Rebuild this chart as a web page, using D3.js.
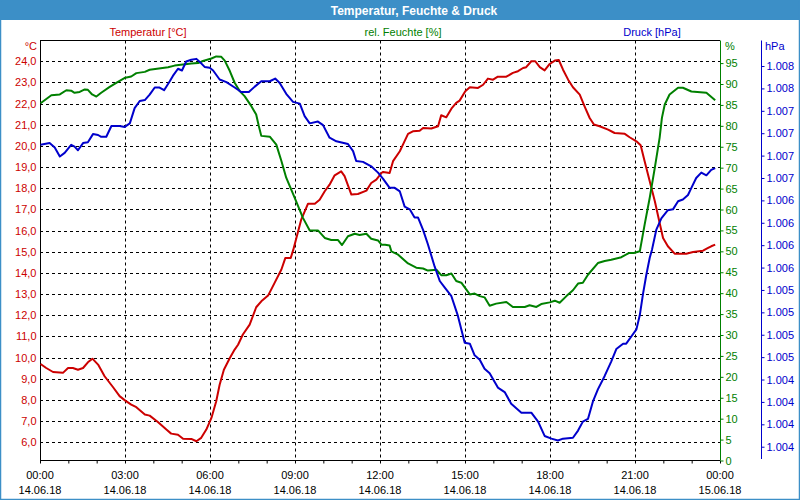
<!DOCTYPE html>
<html><head><meta charset="utf-8">
<script src="https://cdn.jsdelivr.net/npm/d3@7/dist/d3.min.js"></script>
<style>
body{margin:0;background:#fff}
svg text{font-family:"Liberation Sans",Arial,sans-serif;font-size:11px}
</style>
</head><body><svg id="c" width="800" height="500"></svg>
<script>
// ---------- data ----------
const chartTitle = "Temperatur, Feuchte & Druck";
const seriesNames = ["Temperatur [°C]", "rel. Feuchte [%]", "Druck [hPa]"];
const unitLabels = ["°C", "%", "hPa"];

const tempTimes = [0.02,0.22,0.46,0.81,0.99,1.16,1.34,1.52,1.69,1.85,2.05,2.28,2.58,2.81,3.01,3.22,3.40,3.70,3.87,4.16,4.46,4.63,4.87,5.05,5.34,5.52,5.69,5.87,6.05,6.22,6.34,6.49,6.70,6.87,6.99,7.16,7.40,7.63,7.81,8.05,8.28,8.52,8.66,8.85,8.94,9.22,9.46,9.70,9.87,10.05,10.22,10.40,10.63,10.75,10.99,11.22,11.52,11.69,11.87,12.05,12.11,12.34,12.46,12.70,12.81,12.99,13.16,13.40,13.52,13.81,14.05,14.16,14.34,14.52,14.69,14.81,15.01,15.17,15.46,15.64,15.81,15.99,16.16,16.46,16.69,16.87,17.05,17.16,17.34,17.48,17.64,17.81,17.99,18.17,18.31,18.46,18.64,18.81,19.05,19.22,19.40,19.55,19.75,20.05,20.28,20.64,20.81,21.05,21.20,21.34,21.52,21.70,21.87,21.99,22.16,22.40,22.81,23.05,23.40,23.58,23.69,23.83];
const tempValues = [9.70,9.51,9.32,9.28,9.51,9.51,9.43,9.51,9.78,9.95,9.67,9.12,8.60,8.18,7.97,7.78,7.66,7.31,7.26,6.96,6.60,6.41,6.36,6.17,6.16,6.05,6.21,6.60,7.15,7.94,8.72,9.43,9.98,10.38,10.61,11.09,11.56,12.38,12.66,12.93,13.53,14.16,14.71,14.71,15.10,16.52,17.27,17.27,17.46,17.86,18.17,18.61,18.80,18.57,17.70,17.73,17.89,18.25,18.41,18.72,18.77,18.72,19.28,19.75,20.06,20.57,20.69,20.72,20.85,20.82,20.93,21.45,21.35,21.76,22.03,22.14,22.58,22.77,22.74,22.89,23.18,23.13,23.27,23.27,23.45,23.53,23.68,23.72,24.00,24.00,23.72,23.57,23.87,24.03,24.06,23.60,23.13,22.77,22.42,21.87,21.32,21.01,20.93,20.77,20.61,20.57,20.41,20.22,20.03,19.28,18.33,17.39,16.36,15.65,15.26,14.91,14.91,14.99,15.05,15.18,15.26,15.34];

const humTimes = [0.02,0.40,0.70,0.93,1.10,1.22,1.40,1.58,1.69,1.84,1.99,2.16,2.46,2.75,3.01,3.22,3.40,3.70,3.87,4.52,4.75,5.34,5.58,5.75,6.05,6.22,6.40,6.52,6.70,6.87,7.05,7.22,7.46,7.63,7.72,7.81,8.11,8.34,8.52,8.69,8.99,9.28,9.52,9.81,10.05,10.28,10.52,10.66,10.87,11.11,11.28,11.52,11.69,11.93,12.05,12.18,12.34,12.40,12.64,12.99,13.28,13.52,13.69,13.99,14.16,14.34,14.52,14.69,14.87,15.17,15.34,15.52,15.69,15.87,16.10,16.46,16.69,17.11,17.28,17.52,17.69,17.99,18.17,18.34,18.58,18.81,18.99,19.16,19.34,19.69,19.93,20.16,20.52,20.78,20.96,21.17,21.34,21.52,21.70,21.87,21.95,22.05,22.22,22.52,22.69,22.99,23.52,23.83];
const humValues = [85.4,87.3,87.5,88.5,88.4,87.9,88.1,88.7,88.6,87.5,87.0,87.9,89.3,90.5,91.5,91.8,92.6,92.9,93.4,94.0,94.4,94.9,95.0,95.5,96.1,96.6,96.5,95.6,93.1,90.3,88.3,87.1,84.7,82.7,80.0,77.6,77.4,75.5,71.6,67.6,62.8,58.0,55.0,55.0,53.2,52.7,52.7,51.5,53.6,54.2,53.9,54.2,53.0,52.6,51.6,51.6,51.4,50.0,49.2,47.1,46.1,45.9,45.4,45.6,44.3,44.3,44.7,42.9,42.5,39.7,39.9,39.3,39.0,37.0,37.5,37.9,36.7,36.7,37.1,36.7,37.4,37.8,38.2,37.7,39.3,40.7,42.3,42.5,44.4,47.2,47.7,48.0,48.6,49.6,49.6,50.0,56.4,62.8,70.0,77.2,81.9,85.1,87.5,89.1,89.1,88.2,87.9,86.1];

const pressTimes = [0.02,0.34,0.52,0.70,0.87,1.10,1.22,1.34,1.52,1.69,1.87,2.05,2.16,2.34,2.52,2.81,2.99,3.17,3.34,3.52,3.70,3.87,4.05,4.22,4.38,4.58,4.69,4.87,5.01,5.16,5.34,5.52,5.69,5.81,5.99,6.11,6.34,6.58,6.87,7.10,7.37,7.58,7.81,8.11,8.30,8.46,8.69,8.93,9.17,9.34,9.52,9.81,9.99,10.22,10.46,10.87,11.05,11.16,11.40,11.69,11.93,12.11,12.34,12.52,12.70,12.87,13.05,13.22,13.34,13.52,13.69,13.93,14.11,14.28,14.52,14.75,14.99,15.17,15.34,15.52,15.69,15.87,16.16,16.40,16.63,16.99,17.34,17.58,17.81,18.05,18.28,18.46,18.81,18.99,19.16,19.34,19.52,19.69,19.93,20.16,20.34,20.58,20.69,20.87,21.05,21.17,21.28,21.40,21.52,21.60,21.75,21.93,22.16,22.34,22.52,22.69,22.87,22.99,23.16,23.34,23.52,23.69,23.83];
const pressValues = [1006.87,1006.89,1006.84,1006.74,1006.78,1006.87,1006.85,1006.81,1006.89,1006.90,1006.99,1006.98,1006.96,1006.96,1007.08,1007.08,1007.07,1007.11,1007.28,1007.36,1007.37,1007.43,1007.51,1007.51,1007.48,1007.58,1007.64,1007.72,1007.70,1007.80,1007.82,1007.83,1007.78,1007.74,1007.73,1007.70,1007.60,1007.57,1007.51,1007.46,1007.46,1007.52,1007.58,1007.58,1007.61,1007.56,1007.44,1007.35,1007.33,1007.19,1007.11,1007.13,1007.09,1006.95,1006.91,1006.88,1006.80,1006.69,1006.68,1006.63,1006.56,1006.49,1006.39,1006.39,1006.35,1006.18,1006.15,1006.06,1006.06,1005.92,1005.76,1005.51,1005.35,1005.28,1005.18,1004.96,1004.66,1004.65,1004.52,1004.47,1004.37,1004.32,1004.16,1004.11,1003.98,1003.88,1003.88,1003.78,1003.62,1003.59,1003.57,1003.59,1003.60,1003.68,1003.78,1003.81,1004.01,1004.14,1004.29,1004.45,1004.59,1004.65,1004.65,1004.73,1004.81,1004.97,1005.20,1005.42,1005.61,1005.70,1005.92,1006.05,1006.14,1006.15,1006.24,1006.26,1006.31,1006.39,1006.50,1006.56,1006.53,1006.59,1006.61];

const hourTicks = [0,1,2,3,4,5,6,7,8,9,10,11,12,13,14,15,16,17,18,19,20,21,22,23,24];
const majorTicks = [0,3,6,9,12,15,18,21,24];
const timeLabels = ["00:00","03:00","06:00","09:00","12:00","15:00","18:00","21:00","00:00"];
const dateLabels = ["14.06.18","14.06.18","14.06.18","14.06.18","14.06.18","14.06.18","14.06.18","14.06.18","15.06.18"];
const tempTicks = [6,7,8,9,10,11,12,13,14,15,16,17,18,19,20,21,22,23,24];
const humTicks = [0,5,10,15,20,25,30,35,40,45,50,55,60,65,70,75,80,85,90,95];
const pressTicks = [1003.5,1003.75,1004,1004.25,1004.5,1004.75,1005,1005.25,1005.5,1005.75,1006,1006.25,1006.5,1006.75,1007,1007.25,1007.5,1007.75];

// ---------- layout / style ----------
const L = 40, R = 720, T = 40.5, B = 460.5;
const RED = "#cc0000", GREEN = "#008000", BLUE = "#0000cc", FRAME = "#3c8fc7";
const de = d3.formatLocale({decimal: ",", thousands: ".", grouping: [3], currency: ["", " €"]});
const fmtT = de.format(".1f"), fmtP = de.format(",.0f");

const svg = d3.select("#c");
const x = d3.scaleLinear().domain([0, 24]).range([L, R]);
const yT = d3.scaleLinear().domain([5.14, 24.98]).range([B, T]);
const yH = d3.scaleLinear().domain([0, 100.4]).range([B, T]);
const yP = d3.scaleLinear().domain([1003.346, 1008.035]).range([B, T]);

svg.append("rect").attr("x", 0).attr("y", 0).attr("width", 800).attr("height", 500).attr("fill", "#fff");
// title bar
svg.append("rect").attr("x", 0).attr("y", 0).attr("width", 800).attr("height", 20).attr("fill", FRAME);
svg.append("rect").attr("x", 0.5).attr("y", 0.5).attr("width", 799).attr("height", 499)
  .attr("fill", "none").attr("stroke", FRAME).attr("stroke-width", 1.5);
svg.append("text").attr("x", 414).attr("y", 14.5).attr("text-anchor", "middle")
  .attr("fill", "#fff").attr("font-weight", "bold").style("font-size", "12px").text(chartTitle);

// series titles
const titleX = [148, 403, 652], colors = [RED, GREEN, BLUE];
seriesNames.forEach((n, i) => svg.append("text").attr("x", titleX[i]).attr("y", 36)
  .attr("text-anchor", "middle").attr("fill", colors[i]).text(n));

// grid
const grid = svg.append("g").attr("stroke", "#000").attr("stroke-dasharray", "3,3").attr("stroke-width", 1);
grid.selectAll("line.h").data(tempTicks).join("line")
  .attr("x1", L).attr("x2", R).attr("y1", d => Math.round(yT(d)) + 0.5).attr("y2", d => Math.round(yT(d)) + 0.5);
grid.selectAll("line.v").data(majorTicks.slice(1, -1)).join("line")
  .attr("y1", T).attr("y2", B).attr("x1", d => Math.round(x(d)) + 0.5).attr("x2", d => Math.round(x(d)) + 0.5);

// left temperature axis
const axT = svg.append("g").attr("transform", `translate(${L + 0.5},0)`)
  .call(d3.axisLeft(yT).tickValues(tempTicks).tickFormat(fmtT).tickSize(0).tickPadding(4));
axT.select(".domain").remove();
axT.selectAll("text").attr("fill", RED).style("font-size", "11px").style("font-family", "Liberation Sans, Arial, sans-serif");

// bottom time axis
const axX = svg.append("g").attr("transform", `translate(0,${B})`)
  .call(d3.axisBottom(x).tickValues(hourTicks).tickSize(3).tickFormat(""));
axX.select(".domain").remove();
axX.selectAll("line").attr("stroke", "#000");
const xl = svg.append("g").attr("fill", "#000");
majorTicks.forEach((h, i) => {
  xl.append("text").attr("x", x(h)).attr("y", 479).attr("text-anchor", "middle").text(timeLabels[i]);
  xl.append("text").attr("x", x(h)).attr("y", 494).attr("text-anchor", "middle").text(dateLabels[i]);
});

// humidity axis (right, green)
const axH = svg.append("g").attr("transform", `translate(${R + 0.5},0)`)
  .call(d3.axisRight(yH).tickValues(humTicks).tickSize(3).tickPadding(2));
axH.select(".domain").remove();
axH.selectAll("line").attr("stroke", GREEN);
axH.selectAll("text").attr("fill", GREEN).style("font-size", "11px").style("font-family", "Liberation Sans, Arial, sans-serif");

// pressure axis
const PX = 761.5;
const axP = svg.append("g").attr("transform", `translate(${PX},0)`)
  .call(d3.axisRight(yP).tickValues(pressTicks).tickFormat(fmtP).tickSize(3).tickPadding(2));
axP.select(".domain").remove();
axP.selectAll("line").attr("stroke", BLUE);
axP.selectAll("text").attr("fill", BLUE).style("font-size", "11px").style("font-family", "Liberation Sans, Arial, sans-serif");
svg.append("line").attr("x1", PX).attr("x2", PX).attr("y1", T).attr("y2", 459).attr("stroke", BLUE);

// frame lines
svg.append("line").attr("x1", L).attr("x2", R).attr("y1", T).attr("y2", T).attr("stroke", "#000");
svg.append("line").attr("x1", L).attr("x2", R).attr("y1", B).attr("y2", B).attr("stroke", "#000");
svg.append("line").attr("x1", L + 0.5).attr("x2", L + 0.5).attr("y1", T).attr("y2", B).attr("stroke", "#000");
svg.append("line").attr("x1", R + 0.5).attr("x2", R + 0.5).attr("y1", T).attr("y2", B).attr("stroke", GREEN);

// unit labels
svg.append("text").attr("x", 37).attr("y", 50).attr("text-anchor", "end").attr("fill", RED).text(unitLabels[0]);
svg.append("text").attr("x", 725).attr("y", 50).attr("fill", GREEN).text(unitLabels[1]);
svg.append("text").attr("x", 765).attr("y", 50).attr("fill", BLUE).text(unitLabels[2]);

// series lines
function draw(times, vals, y, col) {
  const pts = times.map((t, i) => [t, vals[i]]);
  svg.append("path").datum(pts).attr("fill", "none").attr("stroke", col).attr("stroke-width", 2)
    .attr("stroke-linejoin", "round")
    .attr("d", d3.line().x(d => x(d[0])).y(d => y(d[1])));
}
draw(tempTimes, tempValues, yT, RED);
draw(humTimes, humValues, yH, GREEN);
draw(pressTimes, pressValues, yP, BLUE);
</script>
</body></html>
